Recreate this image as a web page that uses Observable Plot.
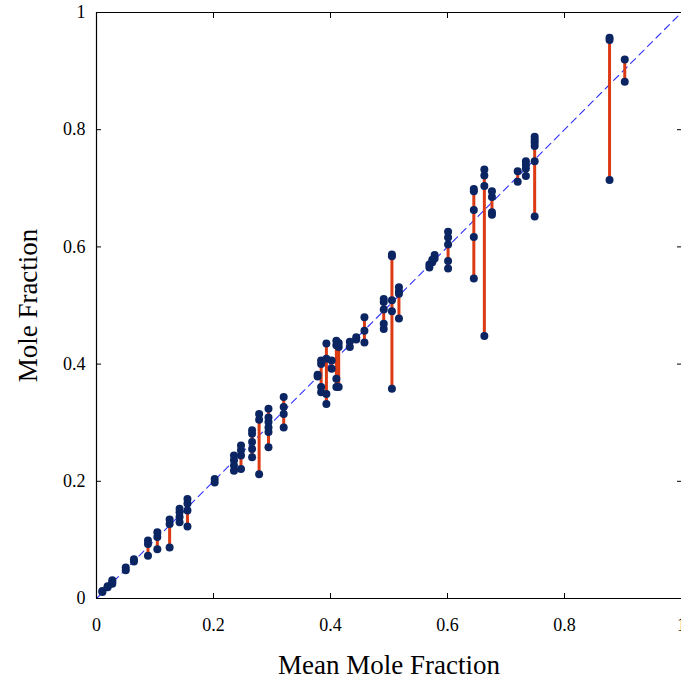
<!DOCTYPE html>
<html>
<head>
<meta charset="utf-8">
<script src="https://cdn.jsdelivr.net/npm/d3@7"></script>
<script src="https://cdn.jsdelivr.net/npm/@observablehq/plot@0.6"></script>
<style>
  html, body { margin: 0; padding: 0; background: #fff; }
</style>
</head>
<body>
<div id="chart"></div>
<script>
// Mean mole fraction of each group (x)
const groupMeans = [
  0.010, 0.019, 0.027, 0.050, 0.064, 0.088, 0.104, 0.125, 0.142, 0.1555,
  0.202, 0.235, 0.247, 0.266, 0.278, 0.294, 0.320, 0.378, 0.384, 0.393,
  0.402, 0.410, 0.414, 0.433, 0.444, 0.458, 0.491, 0.505, 0.517, 0.569,
  0.574, 0.578, 0.601, 0.645, 0.663, 0.676, 0.720, 0.734, 0.749, 0.877,
  0.903
];
// Individual mole fractions in each group (y)
const groupValues = [
  [0.011, 0.013],
  [0.019, 0.021],
  [0.025, 0.028, 0.031],
  [0.048, 0.053],
  [0.063, 0.067],
  [0.073, 0.093, 0.099],
  [0.084, 0.105, 0.113],
  [0.087, 0.127, 0.135],
  [0.130, 0.139, 0.147, 0.153],
  [0.123, 0.150, 0.162, 0.170],
  [0.198, 0.204],
  [0.218, 0.227, 0.236, 0.244],
  [0.221, 0.244, 0.253, 0.261],
  [0.241, 0.255, 0.267, 0.281, 0.287],
  [0.212, 0.305, 0.315],
  [0.258, 0.284, 0.292, 0.301, 0.309, 0.324],
  [0.292, 0.315, 0.327, 0.344],
  [0.379, 0.382],
  [0.352, 0.361, 0.400, 0.406],
  [0.332, 0.349, 0.409, 0.435],
  [0.392, 0.406],
  [0.361, 0.375, 0.432, 0.440],
  [0.361, 0.429, 0.436],
  [0.429, 0.438],
  [0.442, 0.446],
  [0.437, 0.457, 0.480],
  [0.460, 0.469, 0.493, 0.506, 0.511],
  [0.358, 0.490, 0.509, 0.584, 0.587],
  [0.478, 0.520, 0.524, 0.531],
  [0.565, 0.570],
  [0.574, 0.578],
  [0.580, 0.586],
  [0.563, 0.576, 0.604, 0.616, 0.626],
  [0.546, 0.617, 0.663, 0.695, 0.699],
  [0.448, 0.704, 0.722, 0.732],
  [0.655, 0.659, 0.685, 0.695],
  [0.711, 0.729],
  [0.721, 0.734, 0.740, 0.746],
  [0.652, 0.746, 0.772, 0.778, 0.783, 0.788],
  [0.714, 0.953, 0.957],
  [0.882, 0.920]
];
const xTicks = [0, 0.2, 0.4, 0.6, 0.8, 1];
const yTicks = [0, 0.2, 0.4, 0.6, 0.8, 1];
const axisDomain = [0, 1];
const xLabel = "Mean Mole Fraction";
const yLabel = "Mole Fraction";

const points = groupMeans.flatMap((m, i) => groupValues[i].map(v => ({mean: m, value: v})));
const ranges = groupMeans.map((m, i) => ({mean: m, lo: d3.min(groupValues[i]), hi: d3.max(groupValues[i])}));
const diagonal = axisDomain.map(d => ({v: d}));
const fmt = d => String(d);

const chart = Plot.plot({
  width: 681,
  height: 682,
  marginLeft: 96,
  marginRight: 0,
  marginTop: 12,
  marginBottom: 84,
  x: {domain: axisDomain},
  y: {domain: axisDomain},
  style: {fontFamily: "'Liberation Serif', 'DejaVu Serif', serif", fontSize: "18px", color: "#000", background: "#fff", overflow: "visible"},
  marks: [
    Plot.line(diagonal, {x: "v", y: "v", stroke: "#2f2fff", strokeWidth: 1.1, strokeDasharray: "7,5"}),
    Plot.ruleX(ranges, {x: "mean", y1: "lo", y2: "hi", stroke: "#dc3a12", strokeWidth: 3}),
    Plot.dot(points, {x: "mean", y: "value", r: 4, fill: "#0b2562", stroke: "none"}),
    // frame lines (left, bottom, top)
    Plot.ruleX([axisDomain[0]], {stroke: "#000", strokeWidth: 1.2}),
    Plot.ruleY(axisDomain, {stroke: "#000", strokeWidth: 1.2}),
    // inward ticks
    Plot.axisX({ticks: xTicks, anchor: "bottom", tickSize: -5, tickFormat: () => "", label: null}),
    Plot.axisX({ticks: xTicks, anchor: "top", tickSize: -5, tickFormat: () => "", label: null}),
    Plot.axisY({ticks: yTicks, anchor: "left", tickSize: -5, tickFormat: () => "", label: null}),
    Plot.axisY({ticks: yTicks, anchor: "right", tickSize: -5, tickFormat: () => "", label: null}),
    // tick labels
    Plot.axisX({ticks: xTicks, anchor: "bottom", tickSize: 0, tickPadding: 20, tickFormat: fmt, label: null}),
    Plot.axisY({ticks: yTicks, anchor: "left", tickSize: 0, tickPadding: 11, tickFormat: fmt, label: null}),
    // axis titles
    Plot.text([xLabel], {frameAnchor: "bottom", dy: 67, fontSize: 27, text: d => d, textAnchor: "middle", lineAnchor: "middle"}),
    Plot.text([yLabel], {frameAnchor: "left", dx: -68, rotate: -90, fontSize: 27, text: d => d, textAnchor: "middle", lineAnchor: "middle"})
  ]
});
document.getElementById("chart").appendChild(chart);
</script>
</body>
</html>
